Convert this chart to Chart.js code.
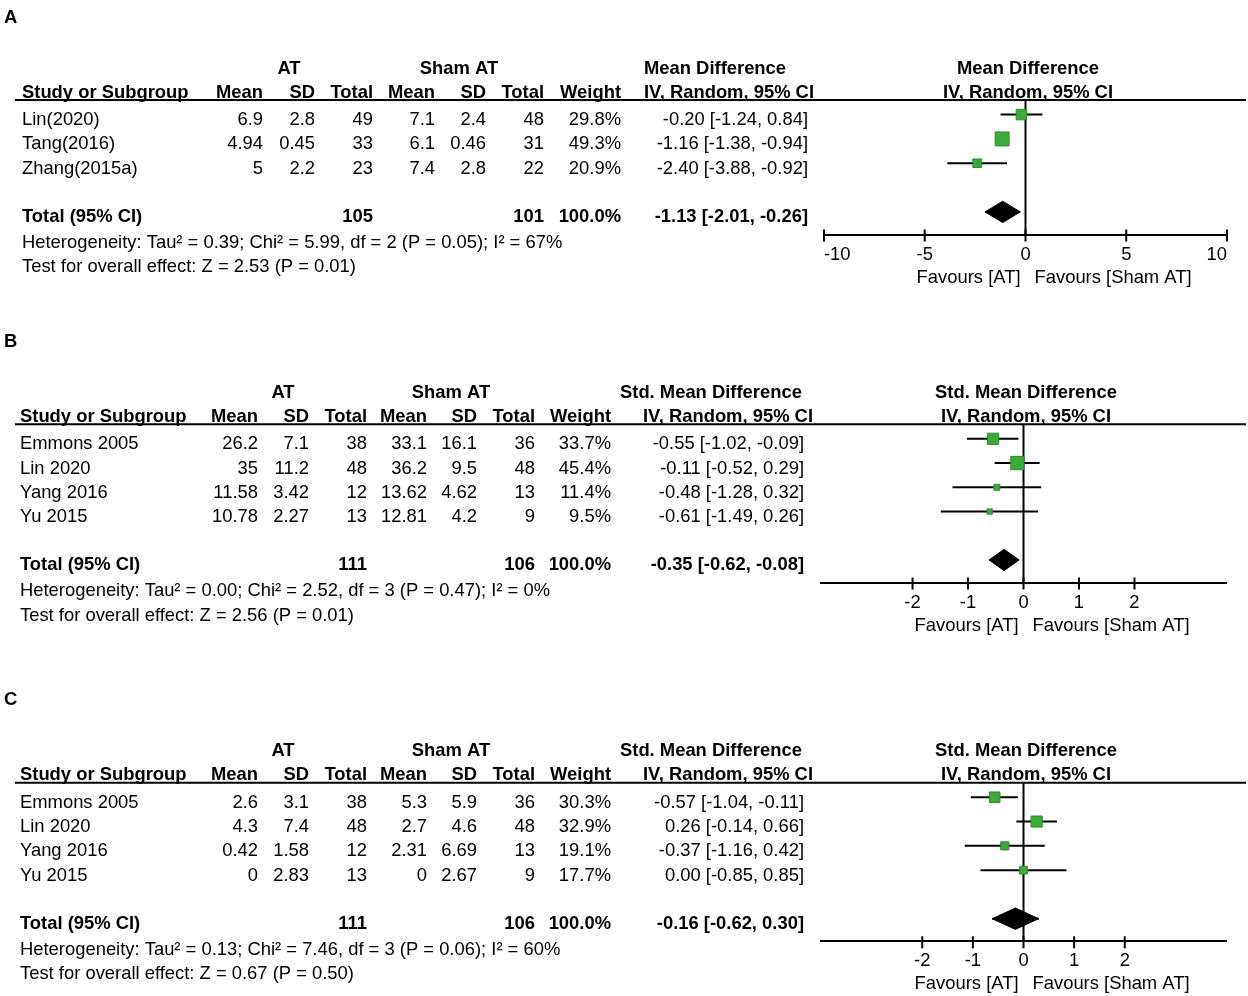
<!DOCTYPE html>
<html>
<head>
<meta charset="utf-8">
<title>Forest plots</title>
<script src="https://cdn.jsdelivr.net/npm/chart.js@4.4.0/dist/chart.umd.min.js"></script>
<style>
  body { margin: 0; background: #fff; width: 1248px; height: 996px; position: relative; overflow: hidden; }
  canvas { position: absolute; left: 0; }
</style>
</head>
<body>
<canvas id="panelA" width="1248" height="300" style="top:0px"></canvas>
<canvas id="panelB" width="1248" height="320" style="top:330px"></canvas>
<canvas id="panelC" width="1248" height="310" style="top:686px"></canvas>
<script>
// ---- panel A data ----
const studiesA = ['Lin(2020)', 'Tang(2016)', 'Zhang(2015a)'];
const atMeanA = [6.9, 4.94, 5];
const atSdA = [2.8, 0.45, 2.2];
const atTotalA = [49, 33, 23];
const shamMeanA = [7.1, 6.1, 7.4];
const shamSdA = [2.4, 0.46, 2.8];
const shamTotalA = [48, 31, 22];
const weightA = [29.8, 49.3, 20.9];
const effectA = [-0.20, -1.16, -2.40];
const lowerA = [-1.24, -1.38, -3.88];
const upperA = [0.84, -0.94, -0.92];
const pooledA = [-1.13, -2.01, -0.26]; // estimate, lower, upper
const hetA = 'Heterogeneity: Tau\u00b2 = 0.39; Chi\u00b2 = 5.99, df = 2 (P = 0.05); I\u00b2 = 67%';
const overallA = 'Test for overall effect: Z = 2.53 (P = 0.01)';
const ticksA = [-10, -5, 0, 5, 10];

// ---- panel B data ----
const studiesB = ['Emmons 2005', 'Lin 2020', 'Yang 2016', 'Yu 2015'];
const atMeanB = [26.2, 35, 11.58, 10.78];
const atSdB = [7.1, 11.2, 3.42, 2.27];
const atTotalB = [38, 48, 12, 13];
const shamMeanB = [33.1, 36.2, 13.62, 12.81];
const shamSdB = [16.1, 9.5, 4.62, 4.2];
const shamTotalB = [36, 48, 13, 9];
const weightB = [33.7, 45.4, 11.4, 9.5];
const effectB = [-0.55, -0.11, -0.48, -0.61];
const lowerB = [-1.02, -0.52, -1.28, -1.49];
const upperB = [-0.09, 0.29, 0.32, 0.26];
const pooledB = [-0.35, -0.62, -0.08];
const hetB = 'Heterogeneity: Tau\u00b2 = 0.00; Chi\u00b2 = 2.52, df = 3 (P = 0.47); I\u00b2 = 0%';
const overallB = 'Test for overall effect: Z = 2.56 (P = 0.01)';
const ticksB = [-2, -1, 0, 1, 2];

// ---- panel C data ----
const studiesC = ['Emmons 2005', 'Lin 2020', 'Yang 2016', 'Yu 2015'];
const atMeanC = [2.6, 4.3, 0.42, 0];
const atSdC = [3.1, 7.4, 1.58, 2.83];
const atTotalC = [38, 48, 12, 13];
const shamMeanC = [5.3, 2.7, 2.31, 0];
const shamSdC = [5.9, 4.6, 6.69, 2.67];
const shamTotalC = [36, 48, 13, 9];
const weightC = [30.3, 32.9, 19.1, 17.7];
const effectC = [-0.57, 0.26, -0.37, 0.00];
const lowerC = [-1.04, -0.14, -1.16, -0.85];
const upperC = [-0.11, 0.66, 0.42, 0.85];
const pooledC = [-0.16, -0.62, 0.30];
const hetC = 'Heterogeneity: Tau\u00b2 = 0.13; Chi\u00b2 = 7.46, df = 3 (P = 0.06); I\u00b2 = 60%';
const overallC = 'Test for overall effect: Z = 0.67 (P = 0.50)';
const ticksC = [-2, -1, 0, 1, 2];

const FONT = '"Liberation Sans", Arial, sans-serif';
const FS = 18.4;
const GREEN = '#3dab3a';
const GREEN_EDGE = '#2a8e2a';

Chart.defaults.font.family = FONT;
Chart.defaults.font.size = FS;
Chart.defaults.color = '#000';

// column positions of the left-hand table
const colsA = { study: 22, mean: 263, sd: 315, total: 373, shamMean: 435, shamSd: 486, shamTotal: 544,
  weight: 621, ci: 808, head1: 644, head2: 644, at: 289, sham: 459 };
const colsBC = { study: 20, mean: 258, sd: 309, total: 367, shamMean: 427, shamSd: 477, shamTotal: 535,
  weight: 611, ci: 804, head1: 620, head2: 643, at: 283, sham: 451 };

function f2(v) { return v.toFixed(2); }
function ciText(e, l, u) { return f2(e) + ' [' + f2(l) + ', ' + f2(u) + ']'; }
function sum(arr) { return arr.reduce((a, b) => a + b, 0); }

function tablePlugin(p) {
  return {
    id: 'table' + p.letter,
    afterDraw(chart) {
      const ctx = chart.ctx;
      const xs = chart.scales.x, ys = chart.scales.y;
      const area = chart.chartArea;
      const rule = area.top, axisY = area.bottom;
      const zero = xs.getPixelForValue(0);
      const c = p.cols;
      const n = p.studies.length;

      const text = (s, x, y, align, bold) => {
        ctx.font = (bold ? 'bold ' : '') + FS + 'px ' + FONT;
        ctx.textAlign = align;
        ctx.fillText(s, x, y);
      };

      ctx.save();
      ctx.fillStyle = '#000';
      ctx.strokeStyle = '#000';
      ctx.textBaseline = 'middle';

      text(p.letter, 4, rule - 82.5, 'left', true);

      // headers
      const h1 = rule - 31.5, h2 = rule - 7.5;
      text('AT', c.at, h1, 'center', true);
      text('Sham AT', c.sham, h1, 'center', true);
      text(p.measure, c.head1, h1, 'left', true);
      text('Study or Subgroup', c.study, h2, 'left', true);
      text('Mean', c.mean, h2, 'right', true);
      text('SD', c.sd, h2, 'right', true);
      text('Total', c.total, h2, 'right', true);
      text('Mean', c.shamMean, h2, 'right', true);
      text('SD', c.shamSd, h2, 'right', true);
      text('Total', c.shamTotal, h2, 'right', true);
      text('Weight', c.weight, h2, 'right', true);
      text('IV, Random, 95% CI', c.head2, h2, 'left', true);
      text(p.measure, zero + 2.5, h1, 'center', true);
      text('IV, Random, 95% CI', zero + 2.5, h2, 'center', true);

      ctx.lineWidth = 2;
      ctx.beginPath();
      ctx.moveTo(15, rule);
      ctx.lineTo(1246, rule);
      ctx.stroke();

      // study rows
      p.studies.forEach((s, i) => {
        const y = ys.getPixelForValue(i) + 5.5;
        text(s, c.study, y, 'left', false);
        text(String(p.atMean[i]), c.mean, y, 'right', false);
        text(String(p.atSd[i]), c.sd, y, 'right', false);
        text(String(p.atTotal[i]), c.total, y, 'right', false);
        text(String(p.shamMean[i]), c.shamMean, y, 'right', false);
        text(String(p.shamSd[i]), c.shamSd, y, 'right', false);
        text(String(p.shamTotal[i]), c.shamTotal, y, 'right', false);
        text(p.weight[i].toFixed(1) + '%', c.weight, y, 'right', false);
        text(ciText(p.effect[i], p.lower[i], p.upper[i]), c.ci, y, 'right', false);
      });

      // total row
      const ty = ys.getPixelForValue(n + 1) + 5;
      text('Total (95% CI)', c.study, ty, 'left', true);
      text(String(sum(p.atTotal)), c.total, ty, 'right', true);
      text(String(sum(p.shamTotal)), c.shamTotal, ty, 'right', true);
      text(sum(p.weight).toFixed(1) + '%', c.weight, ty, 'right', true);
      text(ciText(p.pooled[0], p.pooled[1], p.pooled[2]), c.ci, ty, 'right', true);
      text(p.het, c.study, ty + 26, 'left', false);
      text(p.overall, c.study, ty + 50.5, 'left', false);

      // tick marks crossing the axis
      ctx.lineWidth = 2;
      p.ticks.forEach(v => {
        const x = xs.getPixelForValue(v);
        ctx.beginPath();
        ctx.moveTo(x, axisY - 5);
        ctx.lineTo(x, axisY + 7);
        ctx.stroke();
      });

      text('Favours [AT]', zero - 5, axisY + 43, 'right', false);
      text('Favours [Sham AT]', zero + 9, axisY + 43, 'left', false);
      ctx.restore();
    }
  };
}

function drawForest(id, p) {
  const n = p.studies.length;
  const totalRow = n + 1;
  const yMin = -0.6, yMax = totalRow + 0.93;
  const half = 0.44;
  const [pe, pl, pu] = p.pooled;

  const datasets = [{
    data: p.effect.map((e, i) => ({ x: e, y: i })),
    showLine: false,
    pointStyle: 'rect',
    pointRadius: p.weight.map(w => (2.2 * Math.sqrt(w) - 1.5) / Math.SQRT2),
    pointBackgroundColor: GREEN,
    pointBorderColor: GREEN_EDGE,
    pointBorderWidth: 1,
    order: 0
  }];
  p.effect.forEach((e, i) => {
    datasets.push({
      data: [{ x: p.lower[i], y: i }, { x: p.upper[i], y: i }],
      borderColor: '#000', borderWidth: 2, pointRadius: 0, order: 2
    });
  });
  // pooled diamond, top and bottom halves filled to the total row
  datasets.push({
    data: [{ x: pl, y: totalRow }, { x: pe, y: totalRow - half }, { x: pu, y: totalRow }],
    borderColor: '#000', borderWidth: 1, backgroundColor: '#000',
    fill: { value: totalRow }, pointRadius: 0, order: 1
  });
  datasets.push({
    data: [{ x: pl, y: totalRow }, { x: pe, y: totalRow + half }, { x: pu, y: totalRow }],
    borderColor: '#000', borderWidth: 1, backgroundColor: '#000',
    fill: { value: totalRow }, pointRadius: 0, order: 1
  });
  datasets.push({
    data: [{ x: pl, y: totalRow }, { x: pu, y: totalRow }],
    borderColor: '#000', borderWidth: 2, pointRadius: 0, order: 1
  });
  // line of no effect
  datasets.push({
    data: [{ x: 0, y: yMin }, { x: 0, y: yMax }],
    borderColor: '#000', borderWidth: 2, pointRadius: 0, order: 3
  });

  return new Chart(document.getElementById(id), {
    type: 'line',
    data: { datasets: datasets },
    options: {
      responsive: false,
      animation: false,
      events: [],
      layout: { padding: p.padding },
      plugins: { legend: { display: false }, tooltip: { enabled: false } },
      scales: {
        x: {
          type: 'linear',
          min: p.xMin, max: p.xMax,
          afterBuildTicks: (scale) => { scale.ticks = p.ticks.map(v => ({ value: v })); },
          afterFit: (scale) => { scale.height = 44; },
          grid: { display: false, drawTicks: false },
          border: { display: true, color: '#000', width: 2 },
          ticks: { color: '#000', padding: 9, autoSkip: false, maxRotation: 0, align: p.tickAlign,
            callback: (v) => String(v), font: { size: FS, family: FONT } }
        },
        y: { type: 'linear', display: false, reverse: true, min: yMin, max: yMax }
      }
    },
    plugins: [tablePlugin(p)]
  });
}

drawForest('panelA', {
  letter: 'A', measure: 'Mean Difference', cols: colsA,
  studies: studiesA, atMean: atMeanA, atSd: atSdA, atTotal: atTotalA,
  shamMean: shamMeanA, shamSd: shamSdA, shamTotal: shamTotalA, weight: weightA,
  effect: effectA, lower: lowerA, upper: upperA, pooled: pooledA,
  het: hetA, overall: overallA, ticks: ticksA, xMin: -10, xMax: 10, tickAlign: 'inner',
  padding: { left: 824, right: 21, top: 100, bottom: 21.5 }
});
drawForest('panelB', {
  letter: 'B', measure: 'Std. Mean Difference', cols: colsBC,
  studies: studiesB, atMean: atMeanB, atSd: atSdB, atTotal: atTotalB,
  shamMean: shamMeanB, shamSd: shamSdB, shamTotal: shamTotalB, weight: weightB,
  effect: effectB, lower: lowerB, upper: upperB, pooled: pooledB,
  het: hetB, overall: overallB, ticks: ticksB, xMin: -3.65, xMax: 3.65, tickAlign: 'center',
  padding: { left: 821, right: 22, top: 94.3, bottom: 23.5 }
});
drawForest('panelC', {
  letter: 'C', measure: 'Std. Mean Difference', cols: colsBC,
  studies: studiesC, atMean: atMeanC, atSd: atSdC, atTotal: atTotalC,
  shamMean: shamMeanC, shamSd: shamSdC, shamTotal: shamTotalC, weight: weightC,
  effect: effectC, lower: lowerC, upper: upperC, pooled: pooledC,
  het: hetC, overall: overallC, ticks: ticksC, xMin: -4, xMax: 4, tickAlign: 'center',
  padding: { left: 821, right: 22, top: 96.7, bottom: 10.7 }
});
</script>
</body>
</html>
